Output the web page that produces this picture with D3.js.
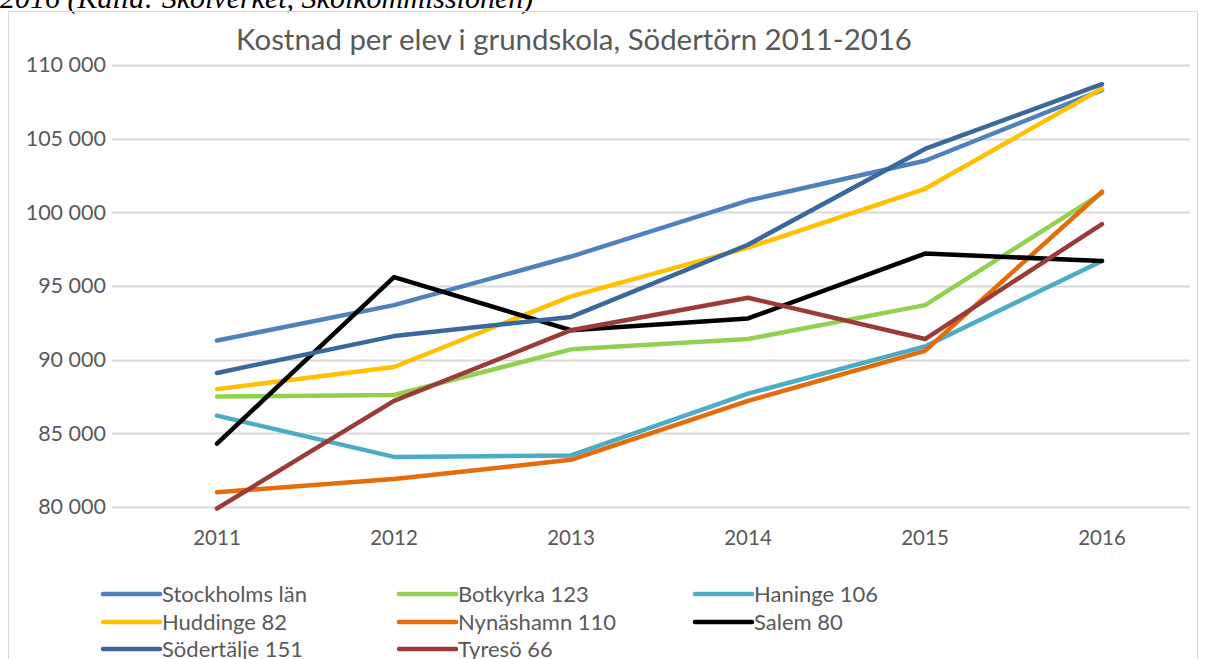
<!DOCTYPE html>
<html>
<head>
<meta charset="utf-8">
<script src="https://cdn.jsdelivr.net/npm/d3@7"></script>
<style>
  body { margin: 0; background: #fff; }
  svg { display: block; }
  text { font-family: Lato, "Open Sans", sans-serif; fill: #595959; }
</style>
</head>
<body>
<svg id="chart" width="1209" height="659"></svg>
<script>
// Data
const years = ["2011", "2012", "2013", "2014", "2015", "2016"];
const yTicks = [80000, 85000, 90000, 95000, 100000, 105000, 110000];

const stockholmsLan = [91300, 93700, 97000, 100800, 103500, 108300];
const botkyrka      = [87500, 87600, 90700, 91400, 93700, 101300];
const haninge       = [86200, 83400, 83500, 87700, 90900, 96700];
const huddinge      = [88000, 89500, 94300, 97600, 101600, 108400];
const nynashamn     = [81000, 81900, 83200, 87200, 90600, 101400];
const salem         = [84300, 95600, 92000, 92800, 97200, 96700];
const sodertalje    = [89100, 91600, 92900, 97800, 104300, 108700];
const tyreso        = [79900, 87200, 92000, 94200, 91400, 99200];

const seriesNames = ["Stockholms län", "Botkyrka 123", "Haninge 106", "Huddinge 82",
  "Nynäshamn 110", "Salem 80", "Södertälje 151", "Tyresö 66"];
const seriesValues = [stockholmsLan, botkyrka, haninge, huddinge, nynashamn, salem, sodertalje, tyreso];
const seriesColors = ["#4F81BD", "#92D050", "#4BACC6", "#FFC000", "#E46C0A", "#000000", "#3A679C", "#9B3B38"];

const series = seriesNames.map((name, i) => ({ name, values: seriesValues[i], color: seriesColors[i] }));

const svg = d3.select("#chart");

// caption above the chart (cut off at top of page, as in the source)
svg.append("text")
  .attr("x", 0).attr("y", 8)
  .style("font-family", "'Liberation Serif', serif")
  .style("font-style", "italic")
  .style("font-size", "30px")
  .style("fill", "#000")
  .text("2016 (Källa: Skolverket, Skolkommissionen)");

// chart frame
svg.append("rect")
  .attr("x", 8.5).attr("y", 11.5)
  .attr("width", 1189).attr("height", 660)
  .attr("fill", "none")
  .attr("stroke", "#D9D9D9");

svg.append("text")
  .attr("x", 574).attr("y", 50)
  .attr("text-anchor", "middle")
  .style("font-size", "29.4px")
  .text("Kostnad per elev i grundskola, Södertörn 2011-2016");

const x = d3.scaleBand().domain(years).range([128.5, 1190.5]);
const y = d3.scaleLinear().domain([80000, 110000]).range([507, 65]);

// gridlines
svg.append("g")
  .selectAll("line")
  .data(yTicks)
  .join("line")
  .attr("x1", 112).attr("x2", 1190)
  .attr("y1", d => Math.round(y(d)) + 0.5)
  .attr("y2", d => Math.round(y(d)) + 0.5)
  .attr("stroke", "#D9D9D9")
  .attr("stroke-width", 2);

const fmt = d => d3.format(",")(d).replace(/,/g, " ");

const yAxis = d3.axisLeft(y).tickValues(yTicks).tickSize(0).tickPadding(0).tickFormat(fmt);
svg.append("g")
  .attr("transform", "translate(106,0)")
  .call(yAxis)
  .call(g => g.select(".domain").remove())
  .call(g => g.selectAll("text").style("font-size", "21.5px").style("fill", "#595959").style("font-family", "Lato, sans-serif"));

const xAxis = d3.axisBottom(x).tickSize(0).tickPadding(0);
svg.append("g")
  .attr("transform", "translate(0,530)")
  .call(xAxis)
  .call(g => g.select(".domain").remove())
  .call(g => g.selectAll("text").style("font-size", "20.5px").style("fill", "#595959").style("font-family", "Lato, sans-serif"));

const line = d3.line()
  .x((d, i) => x(years[i]) + x.bandwidth() / 2)
  .y(d => y(d));

svg.append("g")
  .selectAll("path")
  .data(series)
  .join("path")
  .attr("d", d => line(d.values))
  .attr("fill", "none")
  .attr("stroke", d => d.color)
  .attr("stroke-width", 4.5)
  .attr("stroke-linejoin", "round")
  .attr("stroke-linecap", "round");

// legend: 3 columns, row-major
const legendCols = [103, 399, 695];
const legendRows = [594, 622, 649];
const leg = svg.append("g")
  .selectAll("g")
  .data(series)
  .join("g")
  .attr("transform", (d, i) => `translate(${legendCols[i % 3]},${legendRows[Math.floor(i / 3)]})`);
leg.append("line")
  .attr("x1", 0).attr("x2", 57)
  .attr("stroke", d => d.color)
  .attr("stroke-width", 4.5)
  .attr("stroke-linecap", "round");
leg.append("text")
  .attr("x", 59).attr("dy", "0.35em")
  .style("font-size", "22px")
  .text(d => d.name);
</script>
</body>
</html>
